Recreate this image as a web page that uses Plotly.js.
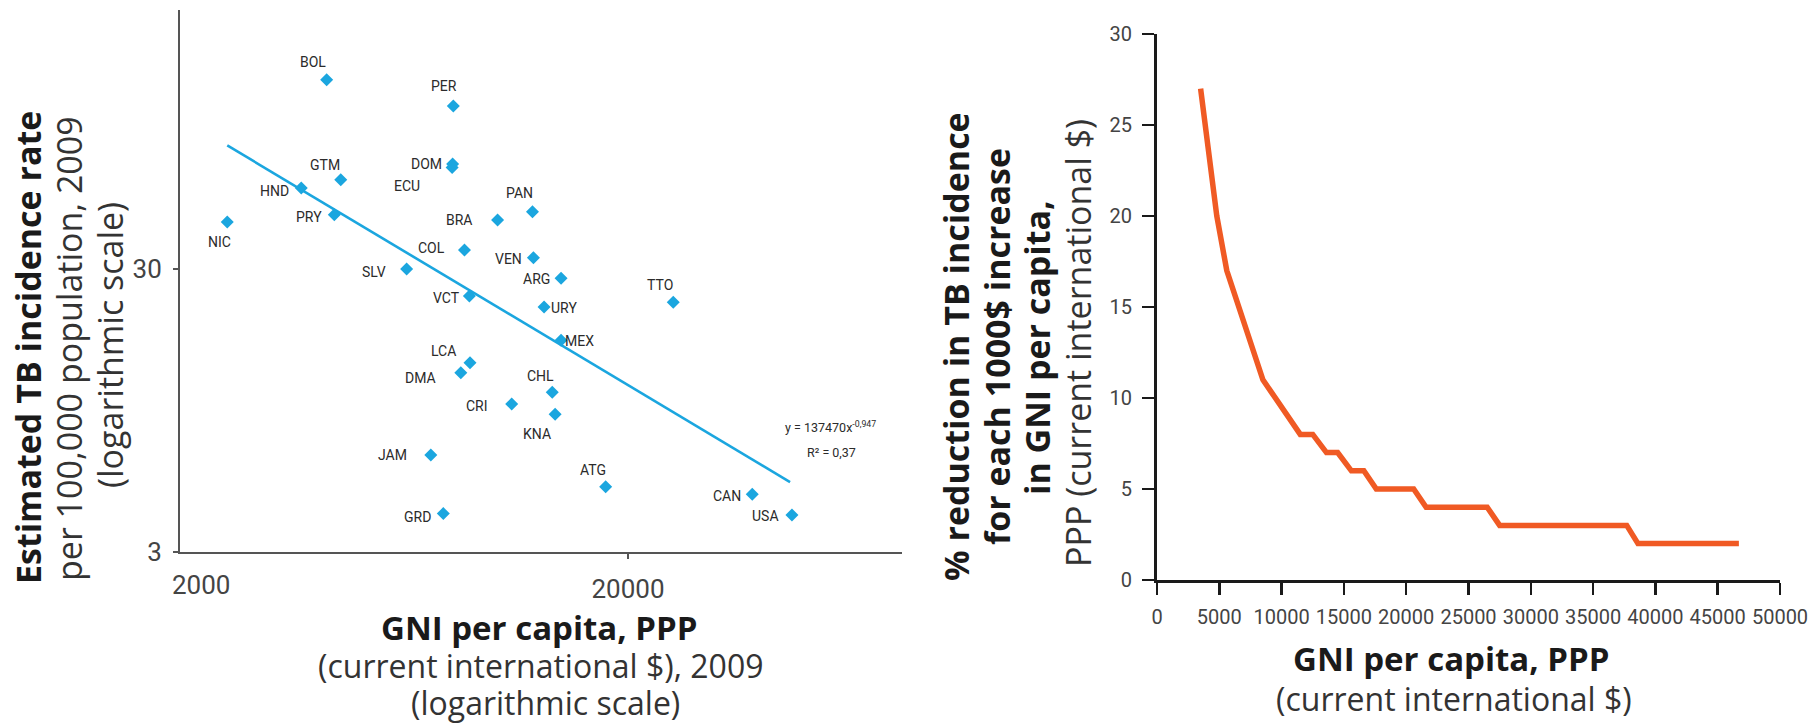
<!DOCTYPE html>
<html>
<head>
<meta charset="utf-8">
<script src="https://cdn.plot.ly/plotly-3.0.1.min.js"></script>
<style>html,body{margin:0;padding:0;background:#fff;}#chart{width:1819px;height:726px;}</style>
</head>
<body>
<div id="chart"></div>
<script>
// ---------- Left panel: TB incidence vs GNI per capita (log-log) ----------
const countries = ['BOL','PER','GTM','HND','PRY','NIC','SLV','DOM','ECU','COL','BRA','PAN','VEN','ARG','TTO','URY','VCT','MEX','LCA','DMA','CHL','CRI','KNA','JAM','GRD','ATG','CAN','USA'];
const gniPerCapita = [4250, 8150, 4570, 3730, 4420, 2550, 6410, 8120, 8100, 8630, 10230, 12240, 12300, 14180, 25240, 12990, 8850, 14180, 8880, 8470, 13550, 11000, 13750, 7260, 7740, 17830, 37880, 46450];
const tbIncidence = [140, 113, 62, 58, 46.6, 44, 30, 70.5, 68.5, 35, 44.7, 47.8, 32.9, 27.8, 22.9, 22, 24.1, 16.8, 14, 12.9, 11, 10, 9.2, 6.6, 4.1, 5.1, 4.8, 4.05];
// power trend line y = 137470 x^-0.947, endpoints as drawn
const trendX = [2550, 46000];
const trendY = [82, 5.3];
const trendEquation = 'y = 137470x<sup>-0,947</sup>';
const trendR2 = 'R² = 0,37';
const leftYTicks = [3, 30];
const leftXTicks = [2000, 20000];

// label offsets (pixels, label centre relative to marker; dy positive = down)
const labelDx = [-14, -9, -16, -27, -25, -8, -33, -26, -45, -33, -39, -13, -25, -25, -13, 20, -23, 18, -27, -40, -12, -35, -18, -38, -26, -13, -25, -26];
const labelDy = [-18, -20, -15, 3, 2, 20, 3, 0, 18, -2, 0, -19, 1, 1, -17, 1, 2, 1, -12, 5, -16, 2, 20, 0, 3, -17, 2, 1];

// ---------- Right panel: % reduction per 1000$ increase ----------
const gniLevels = [3500, 3900, 4500, 4800, 5600, 6600, 8500, 11500, 12500, 13600, 14500, 15600, 16600, 17600, 20600, 21600, 26500, 27500, 37700, 38600, 46700];
const pctReduction = [27, 25, 21.6, 20, 17, 15, 11, 8, 8, 7, 7, 6, 6, 5, 5, 4, 4, 3, 3, 2, 2];
const rightXTicks = [0, 5000, 10000, 15000, 20000, 25000, 30000, 35000, 40000, 45000, 50000];
const rightYTicks = [0, 5, 10, 15, 20, 25, 30];

const W = 1819, H = 726;
const px = v => v / W;
const py = v => 1 - v / H;

const BLUE = '#1ba6df';
const ORANGE = '#f05a24';
const TICKF = 'Roboto, "Open Sans", sans-serif';
const LABELF = 'Roboto, "Open Sans", sans-serif';
const TITLEF = '"Open Sans", "Noto Sans", sans-serif';

const traces = [
  {
    x: trendX, y: trendY, xaxis: 'x', yaxis: 'y', mode: 'lines',
    line: {color: BLUE, width: 2.6}, hoverinfo: 'skip', showlegend: false
  },
  {
    x: gniPerCapita, y: tbIncidence, xaxis: 'x', yaxis: 'y', mode: 'markers',
    marker: {symbol: 'diamond', size: 10, color: BLUE, line: {width: 0}},
    text: countries, showlegend: false
  },
  {
    x: gniLevels, y: pctReduction, xaxis: 'x2', yaxis: 'y2', mode: 'lines',
    line: {color: ORANGE, width: 5.5}, showlegend: false
  }
];

const annotations = [];
countries.forEach((c, i) => {
  annotations.push({
    xref: 'x', yref: 'y', x: Math.log10(gniPerCapita[i]), y: Math.log10(tbIncidence[i]),
    text: c, showarrow: false, xanchor: 'center', yanchor: 'middle',
    xshift: labelDx[i], yshift: -labelDy[i],
    font: {family: LABELF, size: 14, color: '#2b2b2b'}
  });
});
annotations.push({xref: 'paper', yref: 'paper', x: px(830), y: py(427), text: trendEquation, showarrow: false,
  xanchor: 'center', yanchor: 'middle', font: {family: LABELF, size: 12.5, color: '#2b2b2b'}});
annotations.push({xref: 'paper', yref: 'paper', x: px(831), y: py(452), text: trendR2, showarrow: false,
  xanchor: 'center', yanchor: 'middle', font: {family: LABELF, size: 12.5, color: '#2b2b2b'}});
// first x tick label of the left panel sits just right of the axis corner
annotations.push({xref: 'paper', yref: 'paper', x: px(201), y: py(585), text: String(leftXTicks[0]), showarrow: false,
  xanchor: 'center', yanchor: 'middle', font: {family: TICKF, size: 26, color: '#444'}});

function title(text, x, y, size, angle, bold) {
  annotations.push({xref: 'paper', yref: 'paper', x: px(x), y: py(y), text: bold ? '<b>' + text + '</b>' : text,
    showarrow: false, xanchor: 'center', yanchor: 'middle', textangle: angle,
    font: {family: TITLEF, size: size, color: bold ? '#1a1a1a' : '#333333'}});
}
// left y title
title('Estimated TB incidence rate', 28, 348, 34, -90, true);
title('per 100,000 population, 2009', 69, 349, 34, -90, false);
title('(logarithmic scale)', 110, 345, 34, -90, false);
// left x title
title('GNI per capita, PPP', 539, 627, 33, 0, true);
title('(current international $), 2009', 540, 665, 32, 0, false);
title('(logarithmic scale)', 545, 702, 32, 0, false);
// right y title
title('% reduction in TB incidence', 956, 347, 34, -90, true);
title('for each 1000$ increase', 997, 347, 34, -90, true);
title('in GNI per capita,', 1037, 348, 34, -90, true);
title('PPP (current international $)', 1078, 343, 34, -90, false);
// right x title
title('GNI per capita, PPP', 1451, 658, 33, 0, true);
title('(current international $)', 1454, 698, 32, 0, false);

const layout = {
  width: W, height: H,
  margin: {l: 0, r: 0, t: 0, b: 0, pad: 0},
  paper_bgcolor: '#ffffff', plot_bgcolor: '#ffffff',
  showlegend: false,
  xaxis: {
    domain: [px(180), px(902)], type: 'log', range: [3.30103, 4.91263],
    tickvals: leftXTicks.slice(1), ticktext: leftXTicks.slice(1).map(String), tickangle: 0,
    ticks: 'outside', ticklen: 5, tickwidth: 1.5, tickcolor: '#555',
    showline: true, linecolor: '#555', linewidth: 2, showgrid: false, zeroline: false,
    tickfont: {family: TICKF, size: 26, color: '#444'}, ticklabelstandoff: 8,
    anchor: 'y'
  },
  yaxis: {
    domain: [py(552), py(10)], type: 'log', range: [0.47712, 2.39231],
    tickvals: leftYTicks, ticktext: leftYTicks.map(String),
    ticks: 'outside', ticklen: 5, tickwidth: 1.5, tickcolor: '#555',
    showline: true, linecolor: '#555', linewidth: 2, showgrid: false, zeroline: false,
    tickfont: {family: TICKF, size: 26, color: '#444'}, ticklabelstandoff: 6,
    anchor: 'x'
  },
  xaxis2: {
    domain: [px(1157), px(1780)], range: [0, 50000],
    tickvals: rightXTicks, ticktext: rightXTicks.map(String), tickangle: 0,
    ticks: 'outside', ticklen: 12, tickwidth: 2.5, tickcolor: '#1a1a1a',
    showline: true, linecolor: '#1a1a1a', linewidth: 3, showgrid: false, zeroline: false,
    tickfont: {family: TICKF, size: 20, color: '#444'}, ticklabelstandoff: 5,
    anchor: 'y2'
  },
  yaxis2: {
    domain: [py(580), py(34)], range: [0, 30],
    tickvals: rightYTicks, ticktext: rightYTicks.map(String),
    ticks: 'outside', ticklen: 12, tickwidth: 2.5, tickcolor: '#1a1a1a',
    showline: true, linecolor: '#1a1a1a', linewidth: 3, showgrid: false, zeroline: false,
    tickfont: {family: TICKF, size: 20, color: '#444'}, ticklabelstandoff: 6,
    anchor: 'x2'
  },
  annotations: annotations
};

Plotly.newPlot('chart', traces, layout, {staticPlot: true, displayModeBar: false});
</script>
</body>
</html>
